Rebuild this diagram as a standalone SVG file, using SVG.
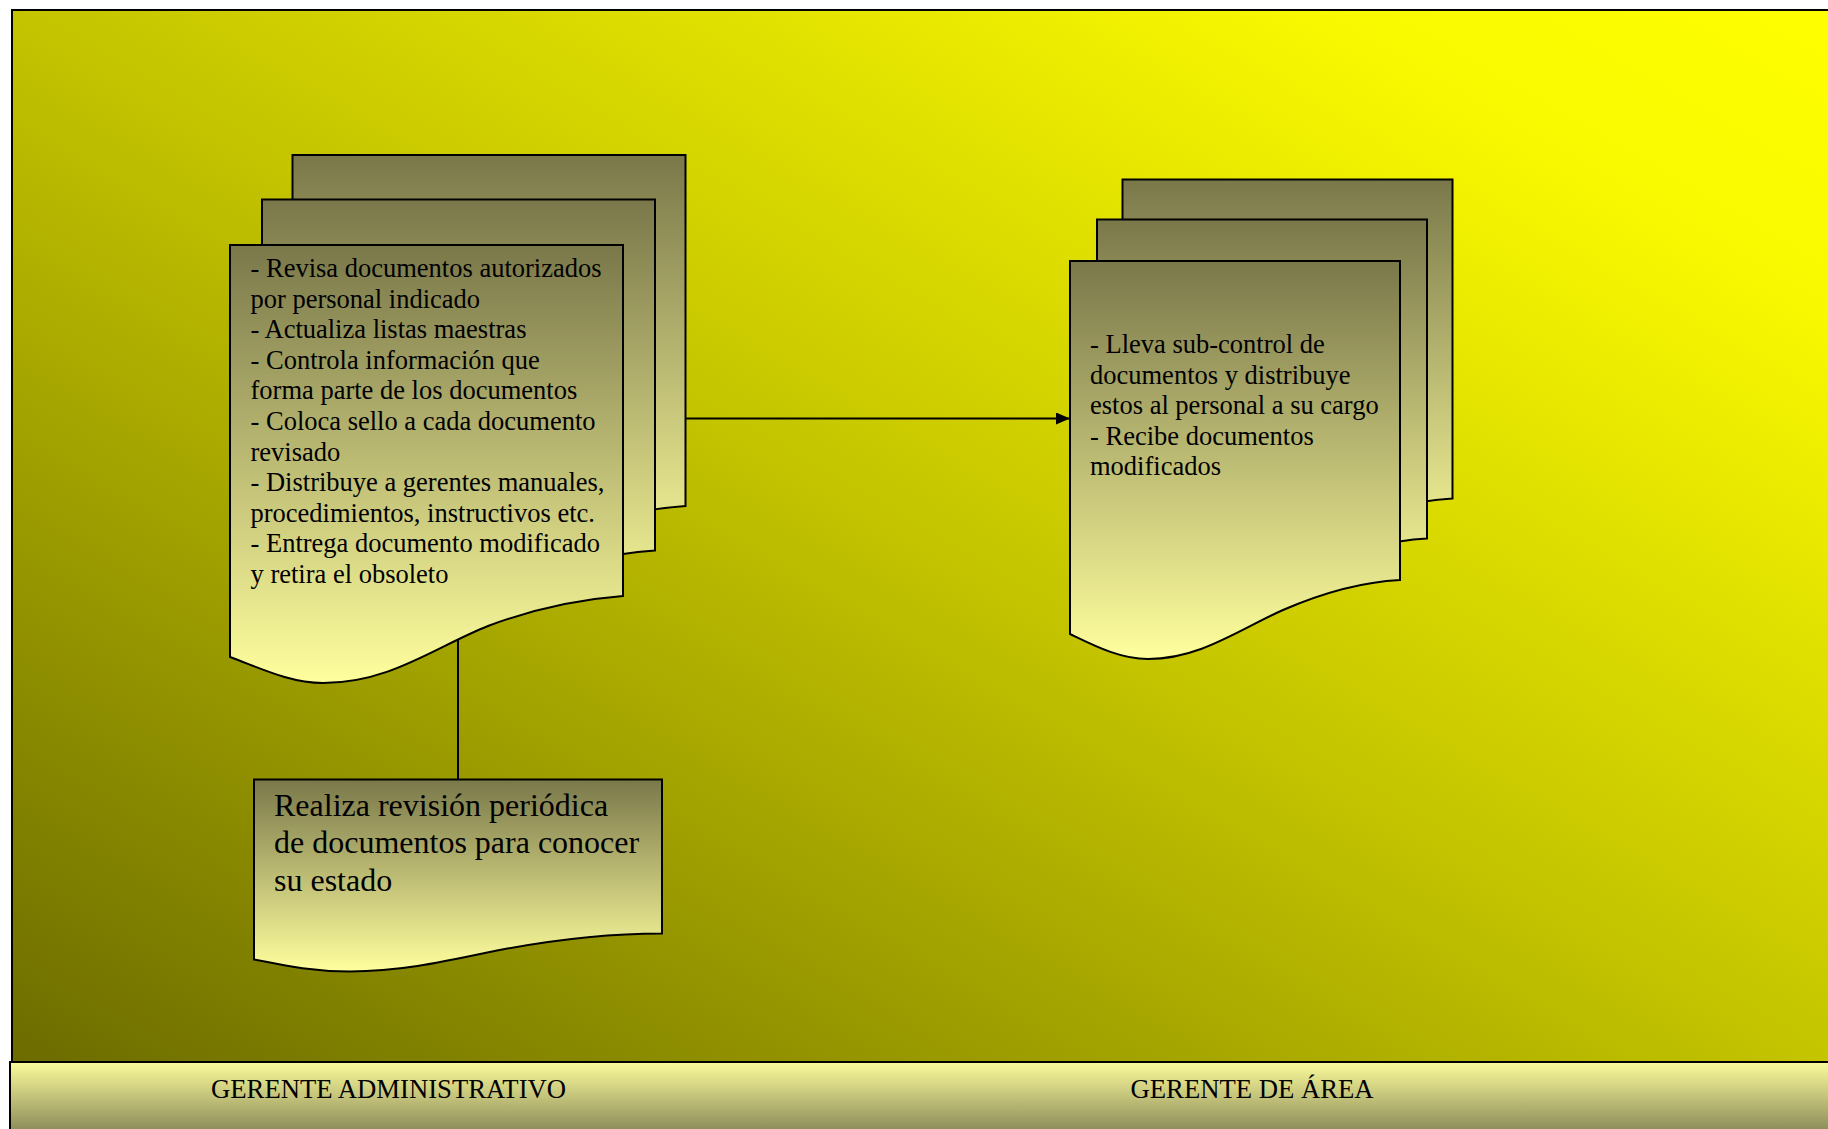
<svg xmlns="http://www.w3.org/2000/svg" width="1828" height="1129" viewBox="0 0 1828 1129">
<defs>
<linearGradient id="bg" x1="0" y1="1" x2="1" y2="0">
<stop offset="0" stop-color="#6b6b00"/>
<stop offset="0.5" stop-color="#c4c400"/>
<stop offset="0.85" stop-color="#f8f800"/>
<stop offset="1" stop-color="#ffff00"/>
</linearGradient>
<linearGradient id="doc" x1="0" y1="0" x2="0" y2="1">
<stop offset="0" stop-color="#7a784a"/>
<stop offset="1" stop-color="#ffff9e"/>
</linearGradient>
<linearGradient id="band" x1="0" y1="0" x2="0" y2="1">
<stop offset="0" stop-color="#fbfb9b"/>
<stop offset="1" stop-color="#7a7a50"/>
</linearGradient>
<marker id="arr" viewBox="0 0 14 12" refX="14" refY="6" markerWidth="14" markerHeight="12" markerUnits="userSpaceOnUse" orient="auto">
<path d="M0,0 L14,6 L0,12 Z" fill="#000"/>
</marker>
<path id="docL" d="M0,0 H393 V351 C340,355 298,366 258,381 C205,402 160,438 93,438 C60,438 30,423 0,412 Z"/>
<path id="docR" d="M0,0 H330 V319 C290,321 250,333 213,349 C170,368 130,398 78,398 C50,398 25,385 0,373 Z"/>
</defs>
<style>
.shape{fill:url(#doc);stroke:#000;stroke-width:2}
.t{font-family:"Liberation Serif","Times New Roman",serif;font-size:26.5px;fill:#000}
.tb{font-family:"Liberation Serif","Times New Roman",serif;font-size:32px;fill:#000}
.lab{font-family:"Liberation Serif","Times New Roman",serif;font-size:26.7px;fill:#000}
.conn{stroke:#000;stroke-width:2;fill:none}
</style>
<g id="background">
<rect x="12" y="10" width="1830" height="1060" fill="url(#bg)" stroke="#000" stroke-width="2"/>
<rect x="10" y="1062" width="1830" height="80" fill="url(#band)" stroke="#000" stroke-width="2"/>
<text class="lab" x="211" y="1097.5">GERENTE ADMINISTRATIVO</text>
<text class="lab" x="1130.5" y="1097.5">GERENTE DE ÁREA</text>
</g>
<g id="connectors">
<line class="conn" x1="686" y1="418.5" x2="1070" y2="418.5" marker-end="url(#arr)"/>
<line class="conn" x1="458" y1="640" x2="458" y2="780"/>
</g>
<g id="node-admin">
<use href="#docL" class="shape" transform="translate(292.5,155)"/>
<use href="#docL" class="shape" transform="translate(262,199.5)"/>
<use href="#docL" class="shape" transform="translate(230,245)"/>
<text class="t">
<tspan x="250.5" y="277">- Revisa documentos autorizados</tspan>
<tspan x="250.5" y="307.6">por personal indicado</tspan>
<tspan x="250.5" y="338.2">- Actualiza listas maestras</tspan>
<tspan x="250.5" y="368.8">- Controla información que</tspan>
<tspan x="250.5" y="399.4">forma parte de los documentos</tspan>
<tspan x="250.5" y="430">- Coloca sello a cada documento</tspan>
<tspan x="250.5" y="460.6">revisado</tspan>
<tspan x="250.5" y="491.2">- Distribuye a gerentes manuales,</tspan>
<tspan x="250.5" y="521.8">procedimientos, instructivos etc.</tspan>
<tspan x="250.5" y="552.4">- Entrega documento modificado</tspan>
<tspan x="250.5" y="583">y retira el obsoleto</tspan>
</text>
</g>
<g id="node-area">
<use href="#docR" class="shape" transform="translate(1122.5,179.5)"/>
<use href="#docR" class="shape" transform="translate(1097,219.5)"/>
<use href="#docR" class="shape" transform="translate(1070,261)"/>
<text class="t">
<tspan x="1090" y="353">- Lleva sub-control de</tspan>
<tspan x="1090" y="383.6">documentos y distribuye</tspan>
<tspan x="1090" y="414.2">estos al personal a su cargo</tspan>
<tspan x="1090" y="444.8">- Recibe documentos</tspan>
<tspan x="1090" y="475.4">modificados</tspan>
</text>
</g>
<g id="node-revision">
<path class="shape" transform="translate(254,779.5)" d="M0,0 H408 V154 C356,154 306,159 243,171 C186,183 146,192 96,192 C56,192 26,185 0,180 Z"/>
<text class="tb">
<tspan x="274" y="816">Realiza revisión periódica</tspan>
<tspan x="274" y="853.3">de documentos para conocer</tspan>
<tspan x="274" y="890.6">su estado</tspan>
</text>
</g>
</svg>
